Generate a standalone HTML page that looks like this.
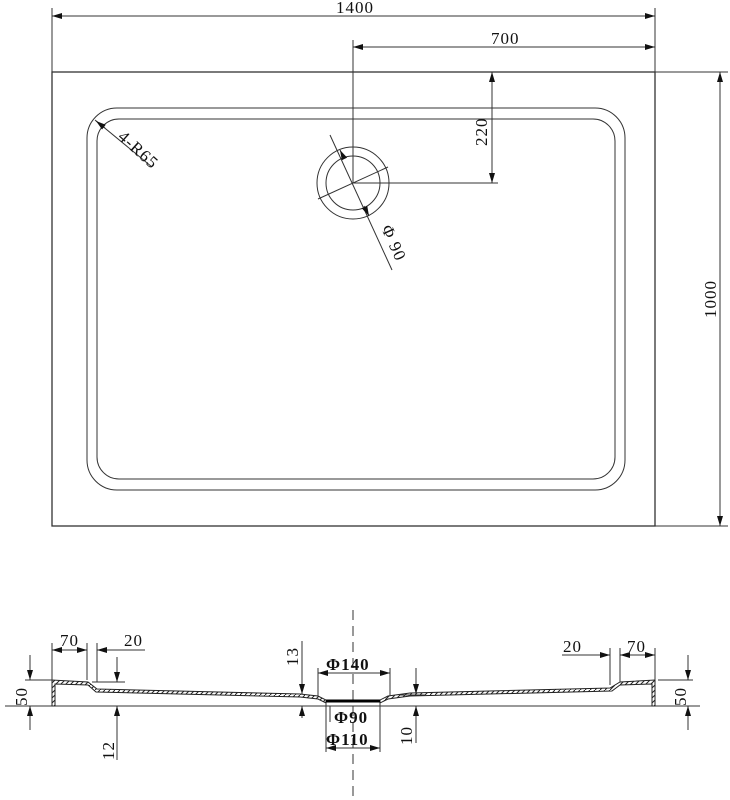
<!DOCTYPE html>
<html><head><style>body{margin:0;background:#fff}svg{display:block}text{font-family:"Liberation Serif",serif;font-size:17px;fill:#111;letter-spacing:1px}</style></head><body>
<svg width="730" height="800" viewBox="0 0 730 800" xmlns="http://www.w3.org/2000/svg">
<defs><marker id="a" viewBox="0 0 10 6" refX="10" refY="3" markerWidth="12" markerHeight="6" markerUnits="userSpaceOnUse" orient="auto-start-reverse"><path d="M0,0L10,3L0,6z" fill="#111"/></marker>
<pattern id="h" width="5" height="5" patternUnits="userSpaceOnUse"><path d="M0,5L5,0" stroke="#222" stroke-width="1"/></pattern></defs>
<g stroke="#333" fill="none" stroke-width="1">
<rect x="52" y="72" width="603" height="454" stroke-width="1.3"/>
<rect x="87" y="108" width="538" height="382" rx="30"/>
<rect x="97" y="119" width="518" height="360" rx="22"/>
<line x1="52" y1="8" x2="52" y2="72"/><line x1="655" y1="8" x2="655" y2="72"/>
<line x1="52" y1="16" x2="655" y2="16" marker-start="url(#a)" marker-end="url(#a)"/>
<line x1="353" y1="40" x2="353" y2="183"/><line x1="655" y1="40" x2="655" y2="72"/>
<line x1="353" y1="47" x2="655" y2="47" marker-start="url(#a)" marker-end="url(#a)"/>
<line x1="353" y1="183" x2="498" y2="183"/>
<line x1="492" y1="72" x2="492" y2="183" marker-start="url(#a)" marker-end="url(#a)"/>
<line x1="655" y1="72" x2="728" y2="72"/><line x1="655" y1="526" x2="728" y2="526"/>
<line x1="720" y1="72" x2="720" y2="526" marker-start="url(#a)" marker-end="url(#a)"/>
<circle cx="353" cy="183" r="36"/><circle cx="353" cy="183" r="27"/>
<line x1="330" y1="135" x2="392" y2="270"/>
<line x1="318" y1="199" x2="388" y2="167"/>
<line x1="344" y1="158" x2="340" y2="150" marker-end="url(#a)"/>
<line x1="364" y1="206" x2="369" y2="216" marker-end="url(#a)"/>
<line x1="95" y1="120" x2="152" y2="167"/>
<line x1="105" y1="128" x2="96" y2="121" marker-end="url(#a)"/>
<line x1="5" y1="706" x2="700" y2="706"/>
<line x1="353" y1="610" x2="353" y2="800" stroke-dasharray="10,6"/>
<path d="M52,706V680L88,682L97,689L300,694L318,696L326,700L326,703L318,699L300,697L96,692L88,685L55,684V706Z" fill="url(#h)" stroke="#222"/>
<path d="M655,706V680L620,682L610,688L410,693L388,696L380,700L380,703L388,699L410,696L612,691L620,685L652,684V706Z" fill="url(#h)" stroke="#222"/>
<line x1="326" y1="701" x2="380" y2="701" stroke="#000" stroke-width="3"/>
<line x1="25" y1="680" x2="52" y2="680"/>
<line x1="30" y1="655" x2="30" y2="680" marker-end="url(#a)"/><line x1="30" y1="730" x2="30" y2="706" marker-end="url(#a)"/>
<line x1="52" y1="643" x2="52" y2="680"/><line x1="87" y1="643" x2="87" y2="680"/><line x1="97" y1="643" x2="97" y2="682"/>
<line x1="52" y1="650" x2="87" y2="650" marker-start="url(#a)" marker-end="url(#a)"/>
<line x1="97" y1="650" x2="145" y2="650" marker-start="url(#a)"/>
<line x1="92" y1="682" x2="125" y2="682"/>
<line x1="117" y1="657" x2="117" y2="682" marker-end="url(#a)"/><line x1="117" y1="760" x2="117" y2="706" marker-end="url(#a)"/>
<line x1="302" y1="641" x2="302" y2="694" marker-end="url(#a)"/><line x1="302" y1="718" x2="302" y2="706" marker-end="url(#a)"/>
<line x1="318" y1="668" x2="318" y2="696"/><line x1="390" y1="668" x2="390" y2="696"/>
<line x1="318" y1="673" x2="390" y2="673" marker-start="url(#a)" marker-end="url(#a)"/>
<line x1="326" y1="703" x2="326" y2="752"/><line x1="380" y1="703" x2="380" y2="752"/>
<line x1="326" y1="748" x2="380" y2="748" marker-start="url(#a)" marker-end="url(#a)"/>
<line x1="330" y1="706" x2="330" y2="722"/>
<line x1="416" y1="668" x2="416" y2="694" marker-end="url(#a)"/><line x1="416" y1="743" x2="416" y2="706" marker-end="url(#a)"/>
<line x1="400" y1="695" x2="425" y2="695"/>
<line x1="610" y1="648" x2="610" y2="685"/><line x1="620" y1="648" x2="620" y2="682"/><line x1="655" y1="648" x2="655" y2="680"/>
<line x1="562" y1="655" x2="610" y2="655" marker-end="url(#a)"/>
<line x1="620" y1="655" x2="655" y2="655" marker-start="url(#a)" marker-end="url(#a)"/>
<line x1="658" y1="680" x2="693" y2="680"/><line x1="658" y1="706" x2="693" y2="706"/>
<line x1="688" y1="655" x2="688" y2="680" marker-end="url(#a)"/><line x1="688" y1="730" x2="688" y2="706" marker-end="url(#a)"/>
</g>
<text x="336" y="13">1400</text>
<text x="491" y="44">700</text>
<text transform="translate(487,146) rotate(-90)">220</text>
<text transform="translate(716,318) rotate(-90)">1000</text>
<text transform="translate(117,138) rotate(42)">4-R65</text>
<text transform="translate(381,228) rotate(66)">Φ 90</text>
<text x="60" y="646">70</text><text x="124" y="646">20</text>
<text transform="translate(27,706) rotate(-90)">50</text>
<text transform="translate(114,760) rotate(-90)">12</text>
<text transform="translate(298,666) rotate(-90)">13</text>
<text x="326" y="670" font-weight="bold">Φ140</text>
<text x="334" y="723" font-weight="bold">Φ90</text>
<text x="326" y="745" font-weight="bold">Φ110</text>
<text transform="translate(412,745) rotate(-90)">10</text>
<text x="563" y="652">20</text><text x="627" y="652">70</text>
<text transform="translate(686,706) rotate(-90)">50</text>
</svg>
</body></html>
